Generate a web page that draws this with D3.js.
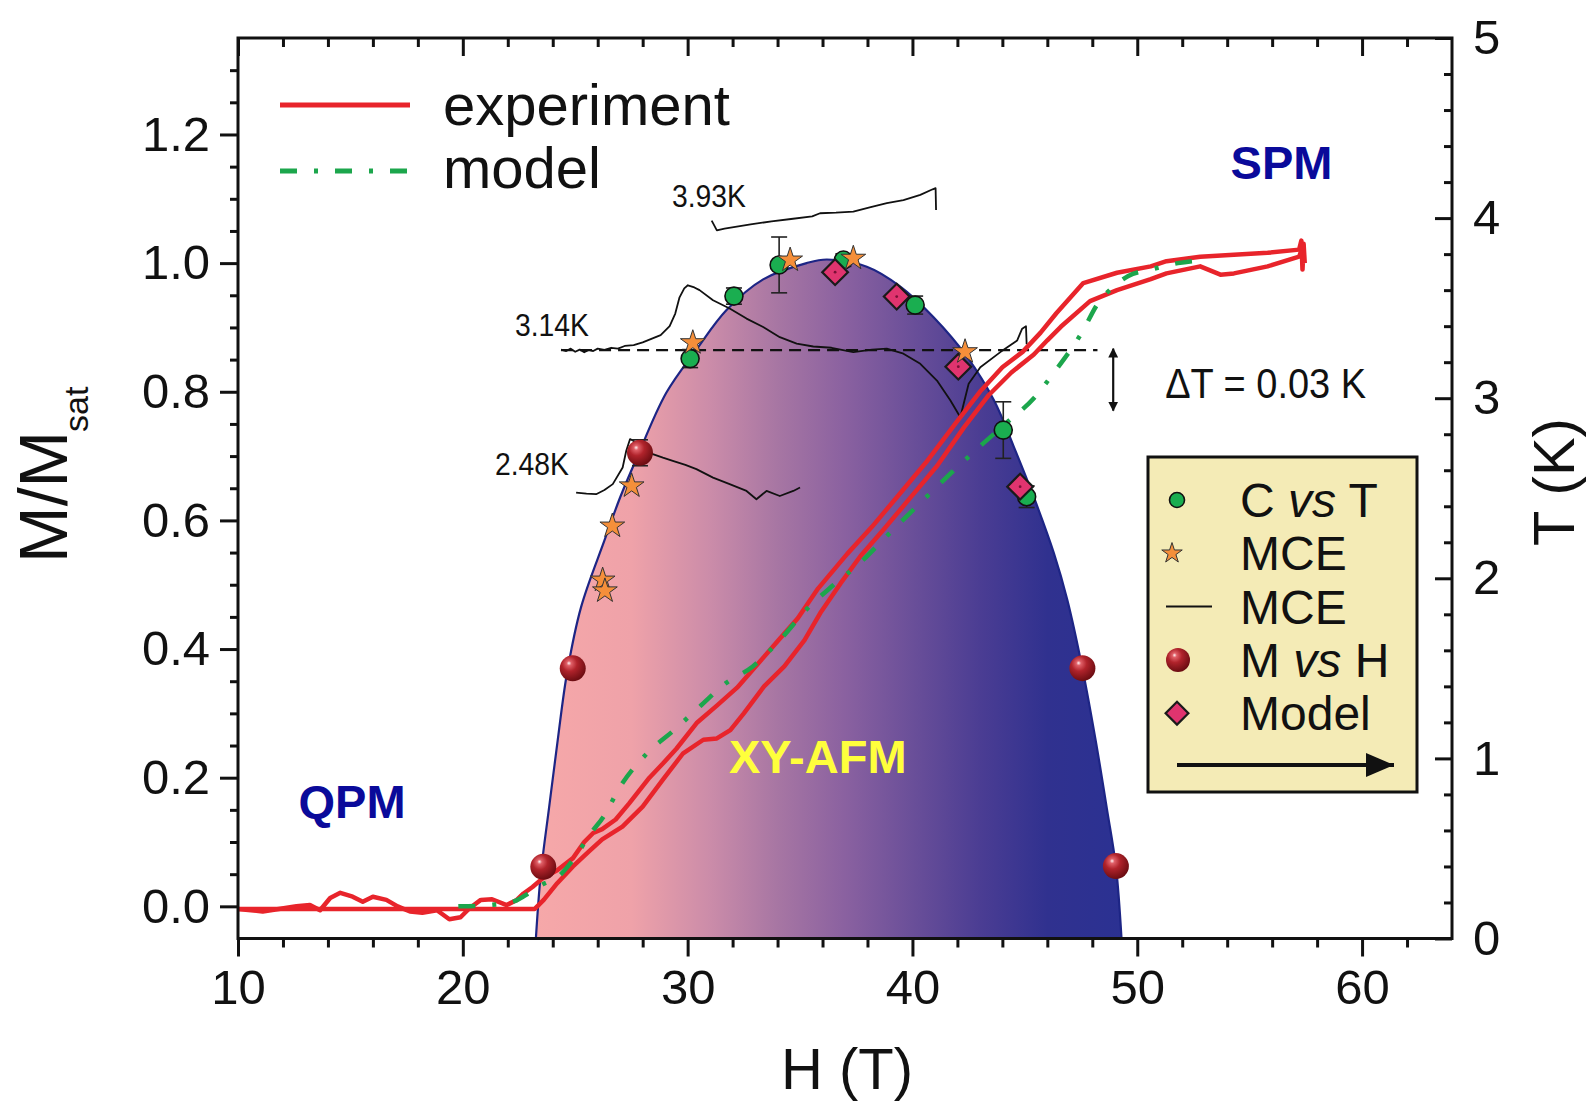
<!DOCTYPE html>
<html>
<head>
<meta charset="utf-8">
<script src="https://cdn.jsdelivr.net/npm/d3@7"></script>
<style>
  body { margin: 0; background: #fff; }
  svg { display: block; font-family: 'Liberation Sans', Arial, sans-serif; }
</style>
</head>
<body>
<div class="chart-container"></div>
<script>
// axis ticks
const xTickValues = [10, 20, 30, 40, 50, 60];
const mTickValues = [0, 0.2, 0.4, 0.6, 0.8, 1.0, 1.2];
const tTickValues = [0, 1, 2, 3, 4, 5];

// phase boundary T_N(H) (blue dome), [H (T), T (K)]
const domeBoundary = [
  [23.25, 0], [23.47, 0.36], [23.84, 0.73], [24.22, 1.10], [24.63, 1.47], [25.26, 1.84],
  [26.30, 2.21], [27.0, 2.45], [27.71, 2.66], [29.05, 3.03], [30.39, 3.27], [31.73, 3.49],
  [33.36, 3.66], [35.29, 3.75], [36.19, 3.77], [37.97, 3.73], [39.46, 3.62], [40.94, 3.45],
  [42.43, 3.23], [43.62, 2.99], [44.51, 2.73], [45.40, 2.45], [46.29, 2.14], [46.89, 1.88],
  [47.56, 1.50], [48.15, 1.10], [48.65, 0.72], [49.05, 0.40], [49.3, 0]
];

// magnetization, up sweep [H, M/Msat]
const experimentUp = [
  [10.0, -0.004], [11.1, -0.008], [12.6, 0.0], [13.2, 0.002], [13.65, -0.006], [14.1, 0.013],
  [14.55, 0.021], [15.1, 0.015], [15.55, 0.007], [16.0, 0.015], [16.6, 0.010], [17.1, 0.0],
  [17.65, -0.008], [18.2, -0.010], [18.85, -0.006], [19.4, -0.020], [19.9, -0.017], [20.3, -0.003],
  [20.8, 0.010], [21.3, 0.011], [21.95, 0.002], [22.4, 0.010], [22.7, 0.020], [23.1, 0.030],
  [23.6, 0.045], [24.2, 0.056], [24.9, 0.075], [25.4, 0.100], [25.8, 0.114], [26.2, 0.120],
  [26.8, 0.135], [27.4, 0.160], [28.3, 0.200], [28.9, 0.222], [29.5, 0.245], [30.4, 0.285],
  [31.3, 0.312], [32.2, 0.340], [33.1, 0.376], [34.0, 0.412], [34.9, 0.448], [35.8, 0.494],
  [37.1, 0.548], [38.2, 0.590], [39.4, 0.640], [40.6, 0.690], [41.9, 0.750], [43.0, 0.800],
  [44.0, 0.838], [44.9, 0.862], [45.7, 0.892], [46.4, 0.922], [47.6, 0.969], [49.1, 0.985],
  [50.6, 0.995], [51.3, 1.003], [52.8, 1.010], [54.3, 1.013], [55.8, 1.016], [57.2, 1.021],
  [57.3, 1.035], [57.35, 0.99], [57.4, 1.03], [57.45, 1.0]
];

// magnetization, down sweep [H, M/Msat]
const experimentDown = [
  [10.0, -0.004], [23.2, -0.004], [23.6, 0.010], [24.2, 0.036], [24.9, 0.062], [25.6, 0.085],
  [26.2, 0.104], [27.1, 0.124], [28.0, 0.155], [28.9, 0.197], [29.8, 0.238], [30.7, 0.259],
  [31.3, 0.261], [31.9, 0.274], [32.5, 0.300], [33.4, 0.342], [34.3, 0.373], [35.2, 0.414],
  [35.9, 0.456], [36.8, 0.502], [37.7, 0.545], [38.7, 0.585], [39.9, 0.635], [41.1, 0.685],
  [42.3, 0.745], [43.4, 0.795], [44.4, 0.830], [45.4, 0.858], [46.0, 0.880], [46.6, 0.901],
  [47.9, 0.941], [49.1, 0.958], [50.6, 0.975], [51.3, 0.984], [52.8, 0.995], [53.7, 0.982],
  [54.3, 0.984], [55.8, 0.995], [57.2, 1.010], [57.3, 1.02]
];

// model magnetization [H, M/Msat]
const modelCurve = [
  [19.8, 0.0], [21.2, 0.002], [22.3, 0.008], [23.0, 0.022], [23.6, 0.035], [24.2, 0.045],
  [24.9, 0.072], [25.7, 0.114], [26.25, 0.139], [27.0, 0.186], [28.2, 0.238], [29.4, 0.274],
  [30.55, 0.311], [31.7, 0.347], [32.9, 0.373], [34.1, 0.414], [35.3, 0.462], [36.5, 0.500],
  [37.7, 0.535], [38.7, 0.570], [40.2, 0.622], [41.7, 0.673], [42.9, 0.712], [44.2, 0.752],
  [45.4, 0.790], [46.3, 0.830], [47.5, 0.890], [48.3, 0.940], [49.0, 0.965], [49.6, 0.980],
  [50.6, 0.990], [51.8, 1.000], [53.1, 1.005]
];

// MCE temperature traces [H, T]
const mce393 = [
  [31.07, 3.986], [31.30, 3.932], [31.64, 3.942], [32.8, 3.965], [33.73, 3.982], [34.6, 3.995],
  [35.54, 4.010], [35.89, 4.027], [36.6, 4.030], [37.37, 4.036], [38.1, 4.060], [38.86, 4.083],
  [39.6, 4.100], [40.35, 4.129], [40.9, 4.160], [41.03, 4.166], [41.05, 4.045]
];
const mce314 = [
  [24.37, 3.270], [24.6, 3.262], [24.8, 3.275], [25.0, 3.258], [25.2, 3.270], [25.4, 3.255],
  [25.6, 3.268], [25.8, 3.262], [26.0, 3.275], [26.3, 3.268], [26.6, 3.280], [26.9, 3.275],
  [27.2, 3.290], [27.6, 3.295], [28.0, 3.310], [28.44, 3.332], [28.8, 3.350], [29.2, 3.400],
  [29.45, 3.470], [29.64, 3.560], [29.85, 3.610], [30.01, 3.627], [30.3, 3.615], [30.53, 3.600],
  [31.13, 3.544], [31.87, 3.498], [32.62, 3.442], [33.36, 3.395], [34.10, 3.339], [34.85, 3.303],
  [35.59, 3.287], [36.4, 3.280], [37.37, 3.256], [38.2, 3.270], [38.86, 3.275], [39.60, 3.247],
  [40.35, 3.191], [41.09, 3.098], [41.69, 2.987], [42.13, 2.894], [42.50, 3.080], [43.02, 3.172],
  [43.91, 3.256], [44.66, 3.321], [44.88, 3.386], [45.05, 3.400], [45.08, 3.300]
];
const mce248 = [
  [25.04, 2.476], [25.5, 2.470], [25.93, 2.467], [26.3, 2.490], [26.67, 2.523], [27.11, 2.615],
  [27.27, 2.708], [27.44, 2.773], [27.71, 2.754], [28.1, 2.720], [28.45, 2.690], [28.9, 2.670],
  [29.34, 2.652], [29.9, 2.630], [30.39, 2.606], [31.13, 2.559], [31.87, 2.523], [32.62, 2.485],
  [33.06, 2.439], [33.51, 2.485], [34.10, 2.457], [34.70, 2.485], [35.0, 2.504]
];

// dashed reference line and ΔT arrow [H, T]
const deltaLine = [[24.37, 3.267], [48.23, 3.267]];
const deltaArrow = [[48.93, 3.275], [48.93, 2.931]];

// C vs T points [H, T, error]
const cvsT = [
  [30.11, 3.22, 0.05], [32.06, 3.567, 0.045], [34.07, 3.74, 0.155], [36.93, 3.767, 0.035],
  [40.12, 3.517, 0.05], [44.04, 2.823, 0.157], [45.08, 2.453, 0.06]
];
// MCE stars [H, T]
const mceStars = [
  [26.22, 1.99], [26.32, 1.93], [26.65, 2.29], [27.51, 2.513], [30.23, 3.308],
  [34.56, 3.767], [37.37, 3.777], [42.34, 3.258]
];
// M vs H points [H, T, error]
const mvsH = [
  [23.58, 0.398, 0], [24.89, 1.500, 0], [27.88, 2.697, 0.072], [47.56, 1.501, 0], [49.05, 0.402, 0]
];
// model points [H, T]
const modelPoints = [[36.56, 3.70], [39.3, 3.564], [42.04, 3.175], [44.79, 2.509]];

// legend entries
const legendLines = ['experiment', 'model'];
const legendBoxLabels = [['C ', 'vs', ' T'], ['MCE'], ['MCE'], ['M ', 'vs', ' H'], ['Model']];

// layout
const margin = { top: 38, right: 140, bottom: 165.5, left: 238 };
const width = 1592 - margin.left - margin.right;
const height = 1104 - margin.top - margin.bottom;

const xScale = d3.scaleLinear().domain([10, 64]).range([0, width]);
const yM = d3.scaleLinear().domain([-0.05, 1.35]).range([height, 0]);
const yT = d3.scaleLinear().domain([0, 5]).range([height, 0]);

const svg = d3.select('.chart-container')
  .append('svg')
  .attr('width', 1592)
  .attr('height', 1104);

const defs = svg.append('defs');

// dome gradient, pink -> blue along H
const gradStops = [
  [23.3, '#f6a8a9'], [27.5, '#efa2a9'], [31, '#cb8ca9'], [34, '#a776a3'], [37, '#8a61a0'],
  [40, '#6a4f99'], [43, '#4b3d93'], [46, '#30318f'], [49.3, '#2b3192']
];
const grad = defs.append('linearGradient')
  .attr('id', 'domeFill')
  .attr('gradientUnits', 'userSpaceOnUse')
  .attr('x1', xScale(23.3)).attr('x2', xScale(49.3))
  .attr('y1', 0).attr('y2', 0);
grad.selectAll('stop')
  .data(gradStops)
  .enter().append('stop')
  .attr('offset', d => (d[0] - 23.3) / 26)
  .attr('stop-color', d => d[1]);

const sphere = defs.append('radialGradient')
  .attr('id', 'sphere')
  .attr('cx', 0.4).attr('cy', 0.35).attr('r', 0.65)
  .attr('fx', 0.35).attr('fy', 0.3);
[[0, '#fff3f3'], [0.14, '#e06068'], [0.45, '#b0232b'], [1, '#6c0d12']].forEach(s => {
  sphere.append('stop').attr('offset', s[0]).attr('stop-color', s[1]);
});

const g = svg.append('g')
  .attr('transform', `translate(${margin.left}, ${margin.top})`);

// dome
const domeArea = d3.area()
  .x(d => xScale(d[0]))
  .y0(yT(0))
  .y1(d => yT(d[1]))
  .curve(d3.curveCatmullRom);
const domeLine = d3.line()
  .x(d => xScale(d[0]))
  .y(d => yT(d[1]))
  .curve(d3.curveCatmullRom);

g.append('path')
  .attr('d', domeArea(domeBoundary))
  .attr('fill', 'url(#domeFill)');
g.append('path')
  .attr('d', domeLine(domeBoundary))
  .attr('fill', 'none')
  .attr('stroke', '#1d2585')
  .attr('stroke-width', 2.2);

// MCE traces
const tLine = d3.line().x(d => xScale(d[0])).y(d => yT(d[1]));
g.selectAll('.mce-trace')
  .data([mce393, mce314, mce248])
  .enter().append('path')
  .attr('class', 'mce-trace')
  .attr('d', d => tLine(d))
  .attr('fill', 'none')
  .attr('stroke', '#111')
  .attr('stroke-width', 1.8)
  .attr('stroke-linejoin', 'round');

// dashed reference + ΔT arrow
g.append('path')
  .attr('d', tLine(deltaLine))
  .attr('stroke', '#111')
  .attr('stroke-width', 2.2)
  .attr('stroke-dasharray', '12,7');

defs.append('marker')
  .attr('id', 'arrowUp')
  .attr('viewBox', '0 0 10 10')
  .attr('refX', 9).attr('refY', 5)
  .attr('markerWidth', 4.5).attr('markerHeight', 4.5)
  .attr('orient', 'auto-start-reverse')
  .append('path')
  .attr('d', 'M0,0 L10,5 L0,10 Z')
  .attr('fill', '#111');

defs.append('marker')
  .attr('id', 'arrowEnd')
  .attr('viewBox', '0 0 10 10')
  .attr('refX', 10).attr('refY', 5)
  .attr('markerUnits', 'userSpaceOnUse')
  .attr('markerWidth', 28).attr('markerHeight', 24)
  .attr('preserveAspectRatio', 'none')
  .attr('orient', 'auto')
  .append('path')
  .attr('d', 'M0,0 L10,5 L0,10 Z')
  .attr('fill', '#111');

g.append('path')
  .attr('d', tLine(deltaArrow))
  .attr('stroke', '#111')
  .attr('stroke-width', 2.2)
  .attr('marker-start', 'url(#arrowUp)')
  .attr('marker-end', 'url(#arrowUp)');

// magnetization curves
const mLine = d3.line().x(d => xScale(d[0])).y(d => yM(d[1]));
g.selectAll('.experiment')
  .data([experimentUp, experimentDown])
  .enter().append('path')
  .attr('class', 'experiment')
  .attr('d', d => mLine(d))
  .attr('fill', 'none')
  .attr('stroke', '#e8242b')
  .attr('stroke-width', 4.5)
  .attr('stroke-linejoin', 'round');

g.append('path')
  .attr('d', mLine.curve(d3.curveMonotoneX)(modelCurve))
  .attr('fill', 'none')
  .attr('stroke', '#1ca64c')
  .attr('stroke-width', 4.5)
  .attr('stroke-dasharray', '17,17,4,17');

// error bars
function errorBars(data, cls) {
  const eb = g.selectAll('.' + cls)
    .data(data.filter(d => d[2] > 0))
    .enter().append('g')
    .attr('class', cls)
    .attr('stroke', '#222')
    .attr('stroke-width', 1.6);
  eb.append('line')
    .attr('x1', d => xScale(d[0])).attr('x2', d => xScale(d[0]))
    .attr('y1', d => yT(d[1] - d[2])).attr('y2', d => yT(d[1] + d[2]));
  eb.append('line')
    .attr('x1', d => xScale(d[0]) - 8).attr('x2', d => xScale(d[0]) + 8)
    .attr('y1', d => yT(d[1] - d[2])).attr('y2', d => yT(d[1] - d[2]));
  eb.append('line')
    .attr('x1', d => xScale(d[0]) - 8).attr('x2', d => xScale(d[0]) + 8)
    .attr('y1', d => yT(d[1] + d[2])).attr('y2', d => yT(d[1] + d[2]));
}
errorBars(cvsT, 'cvst-err');
errorBars(mvsH, 'mvsh-err');

// markers
g.selectAll('.cvst')
  .data(cvsT)
  .enter().append('circle')
  .attr('class', 'cvst')
  .attr('cx', d => xScale(d[0]))
  .attr('cy', d => yT(d[1]))
  .attr('r', 9)
  .attr('fill', '#1aae50')
  .attr('stroke', '#111')
  .attr('stroke-width', 1.6);

const diamond = d3.symbol().type(d3.symbolSquare).size(330);
g.selectAll('.model-pt')
  .data(modelPoints)
  .enter().append('g')
  .attr('class', 'model-pt')
  .attr('transform', d => `translate(${xScale(d[0])}, ${yT(d[1])})`)
  .call(sel => {
    sel.append('path')
      .attr('d', diamond())
      .attr('transform', 'rotate(45)')
      .attr('fill', '#e0346f')
      .attr('stroke', '#1a1a1a')
      .attr('stroke-width', 2.2);
    sel.append('circle').attr('r', 1.4).attr('fill', '#7a1036');
  });

const star = d3.symbol().type(d3.symbolStar).size(190);
g.selectAll('.mce-star')
  .data(mceStars)
  .enter().append('path')
  .attr('class', 'mce-star')
  .attr('transform', d => `translate(${xScale(d[0])}, ${yT(d[1])})`)
  .attr('d', star())
  .attr('fill', '#f58f3a')
  .attr('stroke', '#333')
  .attr('stroke-width', 1);

g.selectAll('.mvsh')
  .data(mvsH)
  .enter().append('circle')
  .attr('class', 'mvsh')
  .attr('cx', d => xScale(d[0]))
  .attr('cy', d => yT(d[1]))
  .attr('r', 13)
  .attr('fill', 'url(#sphere)');

// region labels
const regionLabels = g.append('g').attr('font-weight', 'bold').attr('font-size', 47);
regionLabels.append('text')
  .attr('x', xScale(12.69)).attr('y', yM(0.137))
  .attr('fill', '#0a0a9a')
  .text('QPM');
regionLabels.append('text')
  .attr('x', xScale(54.15)).attr('y', yM(1.131))
  .attr('fill', '#0a0a9a')
  .text('SPM');
regionLabels.append('text')
  .attr('x', xScale(31.84)).attr('y', yM(0.207))
  .attr('fill', '#ffff3c')
  .text('XY-AFM');

// trace labels
const traceLabels = [['3.93K', 29.3, 4.06], ['3.14K', 22.32, 3.345], ['2.48K', 21.43, 2.573]];
g.selectAll('.trace-label')
  .data(traceLabels)
  .enter().append('text')
  .attr('class', 'trace-label')
  .attr('x', d => xScale(d[1]))
  .attr('y', d => yT(d[2]))
  .attr('font-size', 31)
  .attr('textLength', 74)
  .attr('lengthAdjust', 'spacingAndGlyphs')
  .attr('fill', '#111')
  .text(d => d[0]);

g.append('text')
  .attr('x', xScale(51.24))
  .attr('y', yT(3.0))
  .attr('font-size', 42)
  .attr('textLength', 201)
  .attr('lengthAdjust', 'spacingAndGlyphs')
  .attr('fill', '#111')
  .text('\u0394T = 0.03 K');

// axes
function styleAxis(sel, w) {
  sel.select('.domain').remove();
  sel.selectAll('.tick line').attr('stroke', '#111').attr('stroke-width', w);
  sel.selectAll('.tick text').attr('fill', '#111').attr('font-size', 49)
    .attr('font-family', "'Liberation Sans', Arial, sans-serif");
}

const xMinor = d3.range(12, 64, 2).filter(v => v % 10 !== 0);
const mMinor = d3.range(0.05, 1.33, 0.05).filter(v => Math.abs(v * 5 - Math.round(v * 5)) > 1e-6);
const tMinor = d3.range(0.2, 5, 0.2).filter(v => Math.abs(v - Math.round(v)) > 1e-6);

g.append('g').attr('transform', `translate(0, ${height})`)
  .call(d3.axisBottom(xScale).tickValues(xTickValues).tickSize(18).tickPadding(13).tickFormat(d3.format('d')))
  .call(s => styleAxis(s, 3));
g.append('g').attr('transform', `translate(0, ${height})`)
  .call(d3.axisBottom(xScale).tickValues(xMinor).tickSize(9).tickFormat(''))
  .call(s => styleAxis(s, 3));
g.append('g')
  .call(d3.axisTop(xScale).tickValues(xTickValues).tickSize(-18).tickFormat(''))
  .call(s => styleAxis(s, 3));
g.append('g')
  .call(d3.axisTop(xScale).tickValues(xMinor).tickSize(-9).tickFormat(''))
  .call(s => styleAxis(s, 3));

g.append('g')
  .call(d3.axisLeft(yM).tickValues(mTickValues).tickSize(18).tickPadding(10).tickFormat(d3.format('.1f')))
  .call(s => styleAxis(s, 3));
g.append('g')
  .call(d3.axisLeft(yM).tickValues(mMinor).tickSize(8).tickFormat(''))
  .call(s => styleAxis(s, 3));

g.append('g').attr('transform', `translate(${width}, 0)`)
  .call(d3.axisRight(yT).tickValues(tTickValues).tickSizeInner(-17).tickSizeOuter(0).tickPadding(21).tickFormat(d3.format('d')))
  .call(s => styleAxis(s, 3));
g.append('g').attr('transform', `translate(${width}, 0)`)
  .call(d3.axisRight(yT).tickValues(tMinor).tickSizeInner(-8).tickSizeOuter(0).tickFormat(''))
  .call(s => styleAxis(s, 3));

g.append('rect')
  .attr('width', width).attr('height', height)
  .attr('fill', 'none')
  .attr('stroke', '#111')
  .attr('stroke-width', 3);

// axis titles
svg.append('text')
  .attr('x', 847).attr('y', 1089)
  .attr('text-anchor', 'middle')
  .attr('font-size', 58)
  .attr('fill', '#111')
  .text('H (T)');

svg.append('text')
  .attr('transform', 'translate(1574, 482) rotate(-90)')
  .attr('text-anchor', 'middle')
  .attr('font-size', 58)
  .attr('fill', '#111')
  .text('T (K)');

svg.append('text')
  .attr('transform', 'translate(67, 563) rotate(-90)')
  .attr('font-size', 68)
  .attr('fill', '#111')
  .text('M/M');
svg.append('text')
  .attr('transform', 'translate(88, 432) rotate(-90)')
  .attr('font-size', 34)
  .attr('fill', '#111')
  .text('sat');

// top-left legend
const legendTop = svg.append('g').attr('class', 'legend-top');
legendTop.append('line')
  .attr('x1', 280).attr('x2', 410).attr('y1', 105).attr('y2', 105)
  .attr('stroke', '#e8242b').attr('stroke-width', 5);
legendTop.append('line')
  .attr('x1', 280).attr('x2', 410).attr('y1', 171).attr('y2', 171)
  .attr('stroke', '#1ca64c').attr('stroke-width', 5)
  .attr('stroke-dasharray', '17,17,4,17');
legendTop.selectAll('text')
  .data(legendLines)
  .enter().append('text')
  .attr('x', 443)
  .attr('y', (d, i) => 125 + i * 63)
  .attr('font-size', 58)
  .attr('fill', '#111')
  .text(d => d);

// boxed legend
const box = svg.append('g').attr('class', 'legend-box');
box.append('rect')
  .attr('x', 1148).attr('y', 457).attr('width', 269).attr('height', 335)
  .attr('fill', '#f4ebb6')
  .attr('stroke', '#111')
  .attr('stroke-width', 3);

const rowY = i => 500 + i * 53.3;
box.append('circle').attr('cx', 1177).attr('cy', rowY(0)).attr('r', 7.5)
  .attr('fill', '#1aae50').attr('stroke', '#111').attr('stroke-width', 1.6);
box.append('path').attr('transform', `translate(1172, ${rowY(1)})`)
  .attr('d', d3.symbol().type(d3.symbolStar).size(130)())
  .attr('fill', '#f58f3a').attr('stroke', '#333').attr('stroke-width', 1);
box.append('line').attr('x1', 1166).attr('x2', 1212).attr('y1', rowY(2)).attr('y2', rowY(2))
  .attr('stroke', '#111').attr('stroke-width', 2);
box.append('circle').attr('cx', 1178).attr('cy', rowY(3)).attr('r', 12)
  .attr('fill', 'url(#sphere)');
box.append('path').attr('transform', `translate(1177, ${rowY(4)}) rotate(45)`)
  .attr('d', d3.symbol().type(d3.symbolSquare).size(260)())
  .attr('fill', '#e0346f').attr('stroke', '#1a1a1a').attr('stroke-width', 2.2);

box.selectAll('.box-label')
  .data(legendBoxLabels)
  .enter().append('text')
  .attr('class', 'box-label')
  .attr('x', 1240)
  .attr('y', (d, i) => rowY(i) + 17)
  .attr('font-size', 48)
  .attr('fill', '#111')
  .each(function (parts) {
    const t = d3.select(this);
    parts.forEach(p => {
      t.append('tspan')
        .attr('font-style', p === 'vs' ? 'italic' : 'normal')
        .text(p);
    });
  });

box.append('line')
  .attr('x1', 1177).attr('x2', 1394).attr('y1', 765).attr('y2', 765)
  .attr('stroke', '#111').attr('stroke-width', 4)
  .attr('marker-end', 'url(#arrowEnd)');
</script>
</body>
</html>
